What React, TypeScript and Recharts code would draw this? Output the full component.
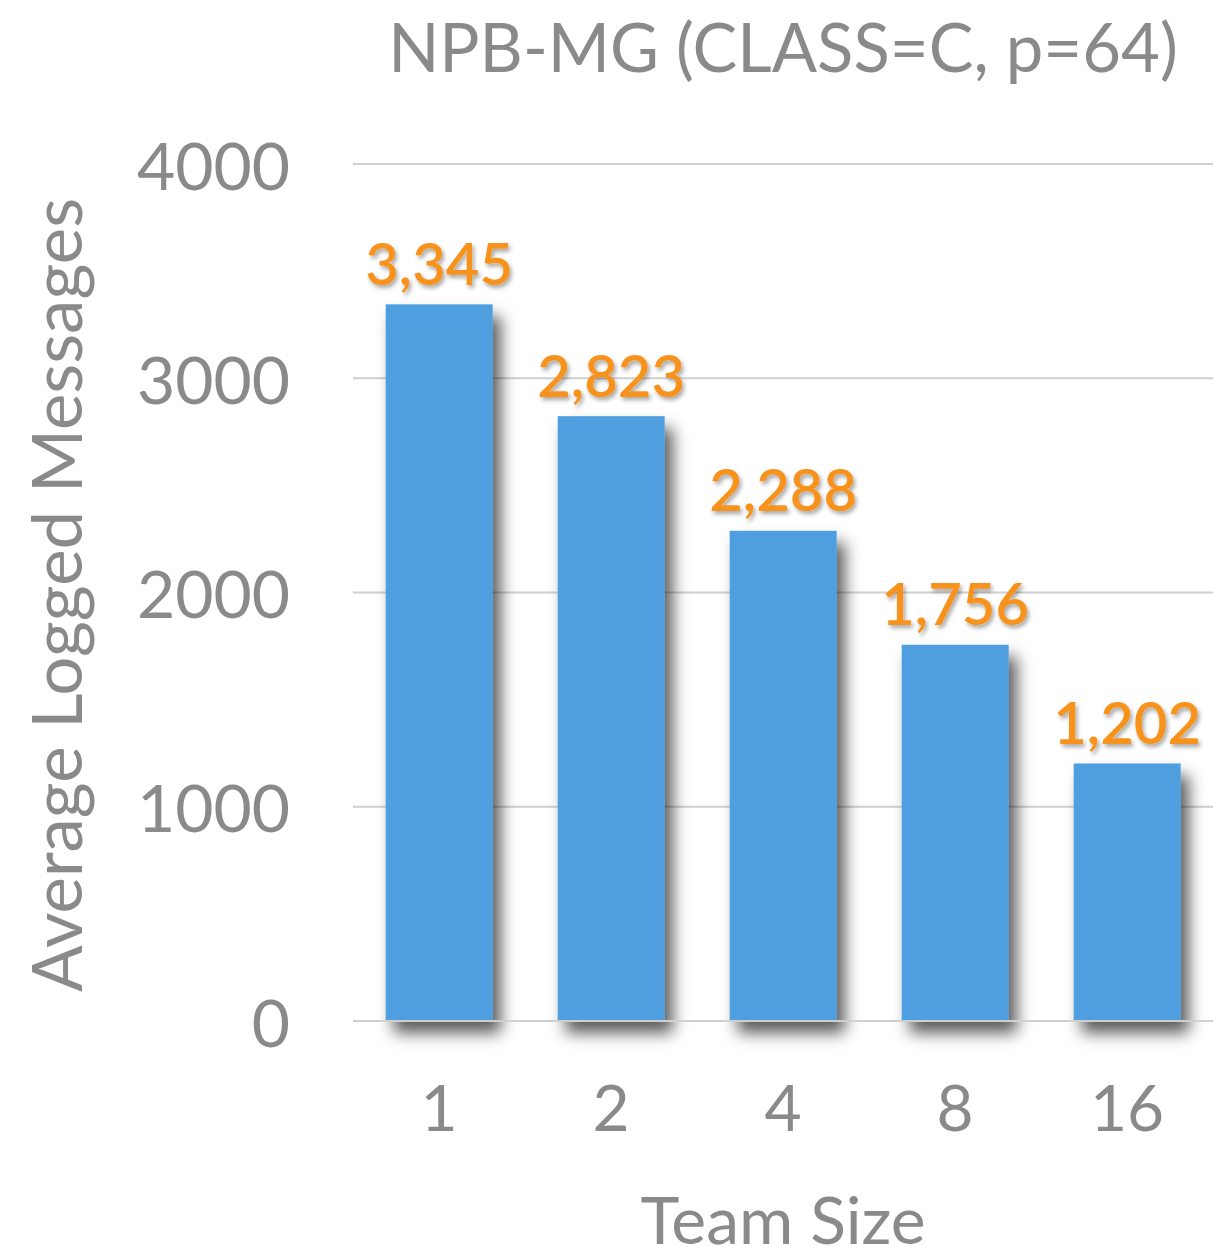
import { BarChart, Bar, XAxis, YAxis, CartesianGrid, LabelList } from "recharts"

const teamSizes = ["1", "2", "4", "8", "16"]
const avgLoggedMessages = [3345, 2823, 2288, 1756, 1202]
const yTicks = [0, 1000, 2000, 3000, 4000]

const chartData = teamSizes.map((size, i) => ({
  size,
  messages: avgLoggedMessages[i],
}))

const FONT = "'Lato', 'Open Sans', sans-serif"
const GRAY = "#8a8a8a"
const BLUE = "#4f9ee0"
const ORANGE = "#f7931e"

function ShadowBar(props: any) {
  const { x, y, width, height } = props
  return <rect x={x} y={y} width={width} height={height} fill={BLUE} filter="url(#barShadow)" />
}

function YTick(props: any) {
  const { y, payload } = props
  return (
    <text x={290} y={y} textAnchor="end" dominantBaseline="central" fill={GRAY} fontSize={66} fontFamily={FONT}>
      {payload.value}
    </text>
  )
}

function XTick(props: any) {
  const { x, payload } = props
  return (
    <text x={x} y={1106} textAnchor="middle" dominantBaseline="central" fill={GRAY} fontSize={64} fontFamily={FONT}>
      {payload.value}
    </text>
  )
}

function ValueLabel(props: any) {
  const { x, y, width, value } = props
  return (
    <text
      x={x + width / 2}
      y={y - 42}
      textAnchor="middle"
      dominantBaseline="central"
      fill={ORANGE}
      fontSize={58}
      fontWeight={600}
      fontFamily={FONT}
      filter="url(#textShadow)"
    >
      {Number(value).toLocaleString("en-US")}
    </text>
  )
}

export default function App() {
  return (
    <div style={{ position: "absolute", left: 0, top: 0, width: 1231, height: 1259, background: "#fff", overflow: "hidden" }}>
      <svg width={0} height={0} style={{ position: "absolute" }}>
        <defs>
          <filter id="barShadow" x="-30%" y="-10%" width="170%" height="130%">
            <feDropShadow dx={8} dy={12} stdDeviation={8} floodColor="#000" floodOpacity={0.65} />
          </filter>
          <filter id="textShadow" x="-20%" y="-30%" width="140%" height="160%">
            <feDropShadow dx={2} dy={3} stdDeviation={2} floodColor="#000" floodOpacity={0.35} />
          </filter>
        </defs>
      </svg>
      <div
        style={{
          position: "absolute",
          left: 0,
          width: 1566,
          top: 6,
          textAlign: "center",
          color: GRAY,
          fontFamily: FONT,
          fontSize: 67,
          lineHeight: "80px",
        }}
      >
        NPB-MG (CLASS=C, p=64)
      </div>
      <div
        style={{
          position: "absolute",
          left: 55,
          top: 595,
          transform: "translate(-50%, -50%) rotate(-90deg)",
          whiteSpace: "nowrap",
          color: GRAY,
          fontFamily: FONT,
          fontSize: 69,
        }}
      >
        Average Logged Messages
      </div>
      <div
        style={{
          position: "absolute",
          left: 0,
          width: 1566,
          top: 1186,
          textAlign: "center",
          color: GRAY,
          fontFamily: FONT,
          fontSize: 66,
          lineHeight: "66px",
        }}
      >
        Team Size
      </div>
      <div style={{ position: "absolute", left: 0, top: 0 }}>
        <BarChart
          width={1231}
          height={1259}
          data={chartData}
          margin={{ top: 164, right: 18, bottom: 0, left: 0 }}
          barCategoryGap="19%"
        >
          <CartesianGrid vertical={false} stroke="#cfcfcf" strokeWidth={2} />
          <XAxis dataKey="size" axisLine={{ stroke: "#cfcfcf", strokeWidth: 2 }} tickLine={false} tick={<XTick />} height={238} />
          <YAxis
            domain={[0, 4000]}
            ticks={yTicks}
            axisLine={false}
            tickLine={false}
            tick={<YTick />}
            width={353}
          />
          <Bar dataKey="messages" shape={<ShadowBar />} isAnimationActive={false}>
            <LabelList dataKey="messages" content={<ValueLabel />} />
          </Bar>
        </BarChart>
      </div>
    </div>
  )
}
